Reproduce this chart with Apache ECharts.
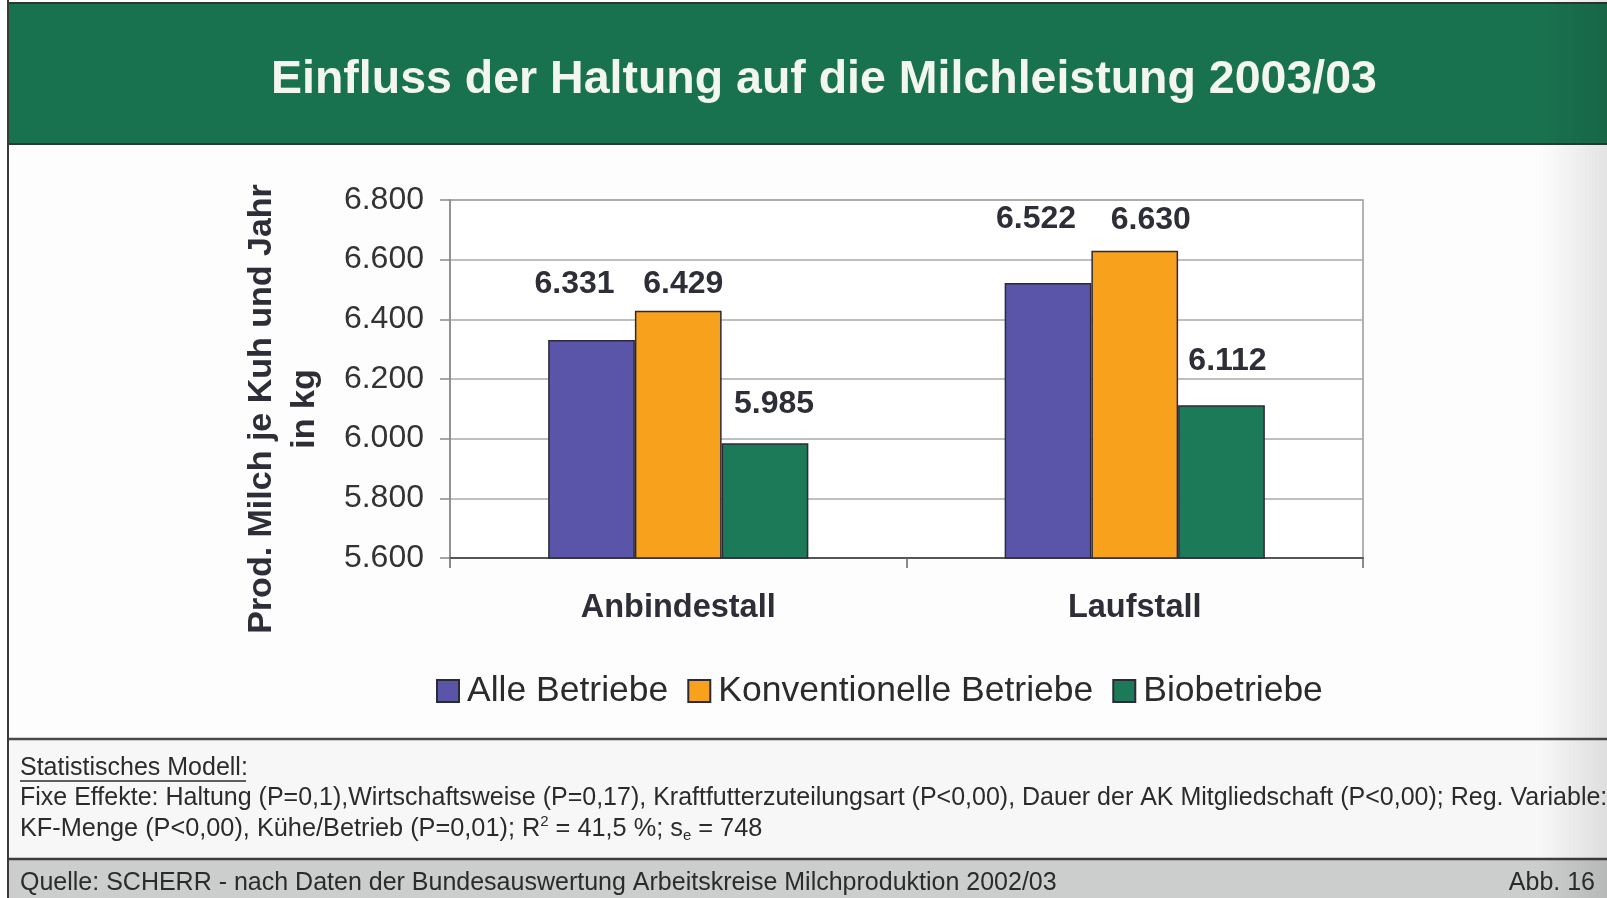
<!DOCTYPE html>
<html>
<head>
<meta charset="utf-8">
<script src="https://cdn.jsdelivr.net/npm/echarts@6/dist/echarts.min.js"></script>
<style>
html,body{margin:0;padding:0;background:#fff;}
#chart{width:1607px;height:898px;}
</style>
</head>
<body>
<div id="chart"></div>
<script>
var categories = ['Anbindestall', 'Laufstall'];
var seriesNames = ['Alle Betriebe', 'Konventionelle Betriebe', 'Biobetriebe'];
var alleBetriebe = [6331, 6522];
var konventionelleBetriebe = [6429, 6630];
var biobetriebe = [5985, 6112];
var yTicks = { min: 5600, max: 6800, interval: 200 };
var titleText = 'Einfluss der Haltung auf die Milchleistung 2003/03';
var yAxisName = 'Prod. Milch je Kuh und Jahr\nin kg';

// label placement tweaks (style only)
var labelOffsets = [
  [[-17, -40], [-12, -48]],
  [[5, -11], [16, -15]],
  [[9, -23], [6, -28]]
];
var colors = ['#5b55a9', '#f7a11c', '#1d7a58'];
var FONT = 'Liberation Sans, Arial, Helvetica, sans-serif';

function fmt(v) {
  var s = String(Math.round(v));
  return s.replace(/\B(?=(\d{3})+(?!\d))/g, '.');
}

function makeSeries(idx, values) {
  return {
    name: seriesNames[idx],
    type: 'bar',
    barGap: '0%',
    barCategoryGap: '43%',
    itemStyle: { color: colors[idx], borderColor: '#2b2a3a', borderWidth: 1.5 },
    data: values.map(function (v, i) {
      return {
        value: v,
        label: { offset: labelOffsets[idx][i] }
      };
    }),
    label: {
      show: true,
      position: 'top',
      distance: 0,
      formatter: function (p) { return fmt(p.value); },
      fontFamily: FONT,
      fontWeight: 'bold',
      fontSize: 32,
      color: '#2e2e38'
    }
  };
}

var chart = echarts.init(document.getElementById('chart'), null, { renderer: 'canvas' });

var option = {
  backgroundColor: '#fdfdfd',
  animation: false,
  title: {
    text: titleText,
    left: 271,
    top: 57,
    padding: 0,
    textStyle: { fontFamily: FONT, fontWeight: 'bold', fontSize: 46.5, color: '#f3f6ef' }
  },
  graphic: [
    { type: 'rect', z: -10, shape: { x: 8, y: 4, width: 1599, height: 140 }, style: { fill: '#19724f' } },
    { type: 'line', z: -9, shape: { x1: 8, y1: 3, x2: 1607, y2: 3 }, style: { stroke: '#333', lineWidth: 2 } },
    { type: 'line', z: -9, shape: { x1: 8, y1: 144, x2: 1607, y2: 144 }, style: { stroke: '#2b3a33', lineWidth: 2 } },
    { type: 'rect', z: -10, shape: { x: 8, y: 739, width: 1599, height: 120 }, style: { fill: '#f6f7f6' } },
    { type: 'line', z: -9, shape: { x1: 8, y1: 739, x2: 1607, y2: 739 }, style: { stroke: '#4a4a4a', lineWidth: 2.5 } },
    { type: 'rect', z: -10, shape: { x: 8, y: 859, width: 1599, height: 39 }, style: { fill: '#cccecd' } },
    { type: 'line', z: -9, shape: { x1: 8, y1: 859, x2: 1607, y2: 859 }, style: { stroke: '#3e3e3e', lineWidth: 2.5 } },
    { type: 'line', z: -9, shape: { x1: 8, y1: 0, x2: 8, y2: 898 }, style: { stroke: '#3a3a3a', lineWidth: 2 } },
    {
      type: 'rect', z: -8, shape: { x: 1540, y: 0, width: 67, height: 898 },
      style: { fill: new echarts.graphic.LinearGradient(0, 0, 1, 0, [
        { offset: 0, color: 'rgba(0,0,0,0)' }, { offset: 1, color: 'rgba(0,0,0,0.10)' }]) }
    },
    {
      type: 'text', z: 10, x: 283, y: 409, rotation: Math.PI / 2,
      style: {
        text: yAxisName, fontFamily: FONT, fontWeight: 'bold', fontSize: 34, lineHeight: 43,
        fill: '#2e2e38', align: 'center', verticalAlign: 'middle'
      }
    },
    {
      type: 'text', z: 10, x: 20, y: 768,
      style: { text: 'Statistisches Modell:', fontFamily: FONT, fontSize: 25, fill: '#2b2b2b', verticalAlign: 'middle' }
    },
    { type: 'line', z: 10, shape: { x1: 20, y1: 781, x2: 246, y2: 781 }, style: { stroke: '#2b2b2b', lineWidth: 1.5 } },
    {
      type: 'text', z: 10, x: 20, y: 798,
      style: { text: 'Fixe Effekte: Haltung (P=0,1),Wirtschaftsweise (P=0,17), Kraftfutterzuteilungsart (P<0,00), Dauer der AK Mitgliedschaft (P<0,00); Reg. Variable:',
        fontFamily: FONT, fontSize: 25, fill: '#2b2b2b', verticalAlign: 'middle' }
    },
    {
      type: 'text', z: 10, x: 20, y: 829,
      style: {
        text: 'KF-Menge (P<0,00), Kühe/Betrieb (P=0,01); R{sup|2} = 41,5 %; s{sub|e} = 748',
        fontFamily: FONT, fontSize: 25.3, fill: '#2b2b2b', verticalAlign: 'middle',
        rich: {
          sup: { fontSize: 15, fontFamily: FONT, fill: '#2b2b2b', verticalAlign: 'top', padding: [0, 0, 14, 0] },
          sub: { fontSize: 15, fontFamily: FONT, fill: '#2b2b2b', verticalAlign: 'bottom', padding: [10, 0, 0, 0] }
        }
      }
    },
    {
      type: 'text', z: 10, x: 20, y: 883,
      style: { text: 'Quelle: SCHERR - nach Daten der Bundesauswertung Arbeitskreise Milchproduktion 2002/03',
        fontFamily: FONT, fontSize: 25, fill: '#2b2b2b', verticalAlign: 'middle' }
    },
    {
      type: 'text', z: 10, x: 1595, y: 883,
      style: { text: 'Abb. 16', fontFamily: FONT, fontSize: 25, fill: '#2b2b2b', align: 'right', verticalAlign: 'middle' }
    }
  ],
  legend: {
    data: seriesNames,
    left: 436,
    top: 673,
    padding: 0,
    icon: 'rect',
    itemWidth: 22,
    itemHeight: 22,
    itemGap: 19,
    textStyle: { fontFamily: FONT, fontSize: 35.5, color: '#2b2b2b', padding: [0, 0, 0, 3] }
  },
  grid: {
    left: 450, top: 200, width: 913, height: 358,
    show: true, backgroundColor: '#ffffff', borderColor: '#999', borderWidth: 1.5
  },
  xAxis: {
    type: 'category',
    data: categories,
    axisLine: { lineStyle: { color: '#555', width: 2 } },
    axisTick: { show: true, length: 10, lineStyle: { color: '#666', width: 1.5 } },
    axisLabel: { margin: 34, fontFamily: FONT, fontWeight: 'bold', fontSize: 32.5, color: '#2e2e38' }
  },
  yAxis: {
    type: 'value',
    min: yTicks.min,
    max: yTicks.max,
    interval: yTicks.interval,
    axisLine: { show: true, lineStyle: { color: '#888', width: 1.5 } },
    axisTick: { show: true, length: 10, lineStyle: { color: '#888', width: 1.5 } },
    splitLine: { show: true, lineStyle: { color: '#aaa', width: 1.5 } },
    axisLabel: { margin: 26, fontFamily: FONT, fontSize: 32, color: '#333',
      formatter: function (v) { return fmt(v); } }
  },
  series: [
    makeSeries(0, alleBetriebe),
    makeSeries(1, konventionelleBetriebe),
    makeSeries(2, biobetriebe)
  ]
};
chart.setOption(option);
</script>
</body>
</html>
